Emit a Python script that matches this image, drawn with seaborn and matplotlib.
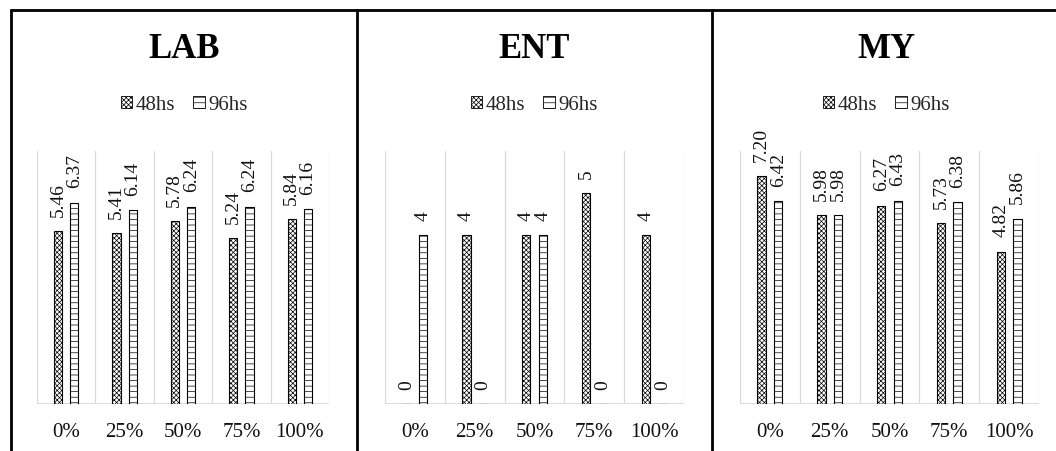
import numpy as np
import pandas as pd
import seaborn as sns
import matplotlib
matplotlib.use("Agg")
import matplotlib.pyplot as plt
from matplotlib.patches import Patch
from matplotlib.lines import Line2D

# ---- data -------------------------------------------------------------
concentrations = ["0%", "25%", "50%", "75%", "100%"]
times = ["48hs", "96hs"]
panels = ["LAB", "ENT", "MY"]

lab_48 = [5.46, 5.41, 5.78, 5.24, 5.84]
lab_96 = [6.37, 6.14, 6.24, 6.24, 6.16]
ent_48 = [0, 4, 4, 5, 4]
ent_96 = [4, 0, 4, 0, 0]
my_48 = [7.20, 5.98, 6.27, 5.73, 4.82]
my_96 = [6.42, 5.98, 6.43, 6.38, 5.86]

series = {
    "LAB": (lab_48, lab_96),
    "ENT": (ent_48, ent_96),
    "MY": (my_48, my_96),
}
y_max = {"LAB": 8, "ENT": 6, "MY": 8}
label_fmt = {"LAB": "{:.2f}", "ENT": "{:.0f}", "MY": "{:.2f}"}

rows = []
for panel in panels:
    for t, vals in zip(times, series[panel]):
        for c, v in zip(concentrations, vals):
            rows.append({"panel": panel, "time": t, "conc": c, "value": v})
df = pd.DataFrame(rows)

# ---- style ------------------------------------------------------------
sns.set_theme(style="white")
plt.rcParams["font.family"] = ["Liberation Serif", "DejaVu Serif"]
plt.rcParams["hatch.linewidth"] = 0.5
plt.rcParams["hatch.color"] = "black"

W, H = 1056, 452
fig = plt.figure(figsize=(W / 100, H / 100), dpi=100)


def fx(x):
    return x / W


def fy(y):
    return 1 - y / H


# axes boxes in pixels: (left, top, right, bottom)
boxes = {
    "LAB": (37, 152, 329, 405),
    "ENT": (385, 152, 684, 405),
    "MY": (740, 152, 1039, 405),
}
panel_centers = {"LAB": 184, "ENT": 534, "MY": 886}
hatches = ["xxxxxxx", "---"]
grid_col = "#d9d9d9"

for panel in panels:
    l, t, r, b = boxes[panel]
    ax = fig.add_axes([fx(l), fy(b), fx(r) - fx(l), fy(t) - fy(b)])
    sub = df[df["panel"] == panel]
    sns.barplot(
        data=sub, x="conc", y="value", hue="time",
        order=concentrations, hue_order=times,
        width=0.56, gap=0.5, saturation=1,
        palette=["white", "white"], edgecolor="black", linewidth=0.8,
        errorbar=None, legend=False, ax=ax,
    )
    for container, h in zip(ax.containers, hatches):
        for bar in container:
            bar.set_hatch(h)
        ax.bar_label(container, fmt=label_fmt[panel], rotation=90,
                     padding=11, fontsize=14, color="#111111")

    ax.set_xlim(-0.5, len(concentrations) - 0.5)
    ax.set_ylim(0, y_max[panel])
    for xv in np.arange(-0.5, len(concentrations)):
        ax.axvline(xv, color=grid_col, lw=0.9, zorder=0)
    ax.axhline(0, color=grid_col, lw=1.3, zorder=0.5)
    for s in ax.spines.values():
        s.set_visible(False)
    ax.set_yticks([])
    ax.set_xlabel("")
    ax.set_ylabel("")
    ax.tick_params(axis="x", length=0, pad=13, labelsize=15, labelcolor="#111111")

    cx = panel_centers[panel]
    fig.text(fx(cx), fy(50), panel, ha="center", va="center",
             fontsize=25, fontweight="bold", color="black")
    handles = [Patch(facecolor="white", edgecolor="black", hatch=h, lw=0.6)
               for h in hatches]
    ax.legend(handles, times, loc="center", bbox_to_anchor=(fx(cx), fy(106)),
              bbox_transform=fig.transFigure, ncol=2, frameon=False,
              fontsize=15, handlelength=0.55, handleheight=0.55,
              handletextpad=0.15, columnspacing=0.9, borderpad=0)

# panel frame lines
frame_kw = dict(color="black", lw=2.0, transform=fig.transFigure,
                solid_capstyle="butt")
fig.add_artist(Line2D([fx(10), fx(W)], [fy(11), fy(11)], **frame_kw))
for xv in (11, 357, 712):
    fig.add_artist(Line2D([fx(xv), fx(xv)], [fy(10), fy(H)], **frame_kw))

fig.savefig("out.png", dpi=100, facecolor="white")
